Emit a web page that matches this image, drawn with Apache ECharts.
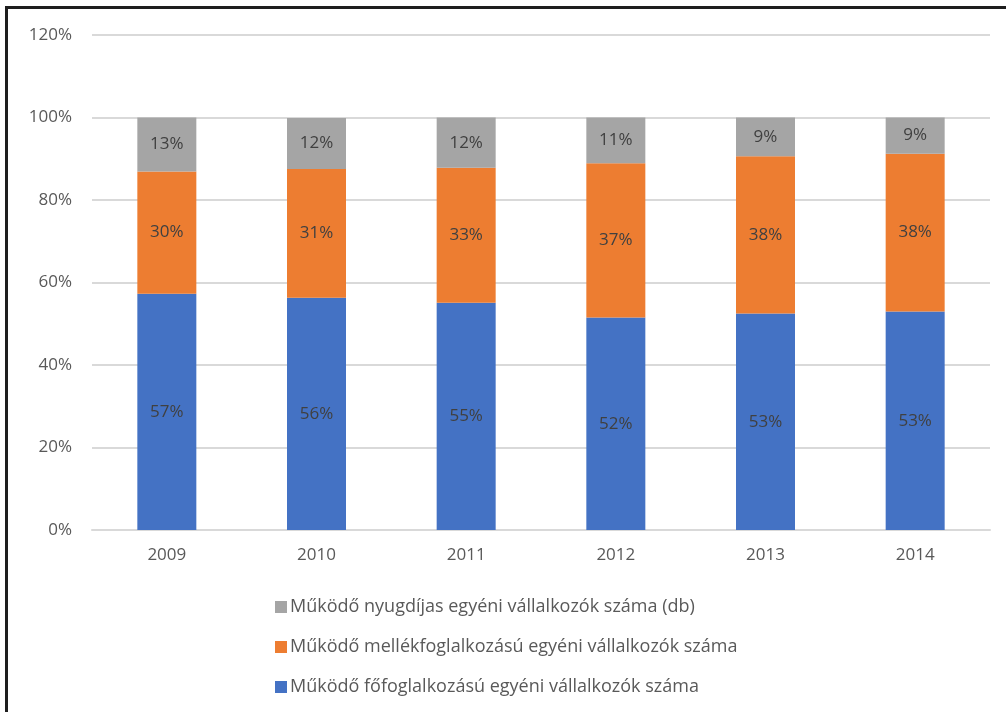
<!DOCTYPE html>
<html>
<head>
<meta charset="utf-8">
<script src="https://cdn.jsdelivr.net/npm/echarts@6/dist/echarts.min.js"></script>
<style>
    html, body {
        margin: 0;
        padding: 0;
        background: #fff;
        overflow: hidden;
    }

    .frame {
        position: absolute;
        left: 5px;
        top: 6px;
        width: 1100px;
        height: 800px;
        border: 3px solid #1e1e1e;
    }

    #chart {
        position: absolute;
        left: 0;
        top: 0;
        width: 1006px;
        height: 712px;
    }
</style>
</head>
<body>
<div class="frame"></div>
<div id="chart"></div>
<script>
const years = ['2009', '2010', '2011', '2012', '2013', '2014'];
// share of each group in percent
const fofoglalkozasu = [57.3, 56.3, 55.1, 51.5, 52.5, 53.0];
const mellekfoglalkozasu = [29.6, 31.2, 32.7, 37.4, 38.1, 38.2];
const nyugdijas = [13.1, 12.4, 12.2, 11.1, 9.4, 8.8];
const seriesNames = [
    'Működő főfoglalkozású egyéni vállalkozók száma',
    'Működő mellékfoglalkozású egyéni vállalkozók száma',
    'Működő nyugdíjas egyéni vállalkozók száma (db)',
];
const colors = ['#4472C4', '#ED7D31', '#A5A5A5'];

const font = 'Open Sans';
const chart = echarts.init(document.getElementById('chart'));

function makeSeries(name, data, color) {
    return {
        name: name,
        type: 'bar',
        stack: 'total',
        barWidth: 59,
        data: data,
        itemStyle: {color: color},
        label: {
            show: true,
            position: 'inside',
            color: '#404040',
            fontFamily: font,
            fontSize: 17,
            formatter: (p) => Math.round(p.value) + '%',
        },
    };
}

chart.setOption({
    animation: false,
    backgroundColor: 'transparent',
    grid: {
        left: 92,
        right: 16,
        top: 35,
        bottom: 182,
    },
    legend: {
        orient: 'vertical',
        left: 270,
        top: 593,
        itemWidth: 12,
        itemHeight: 12,
        itemGap: 22,
        icon: 'rect',
        data: [seriesNames[2], seriesNames[1], seriesNames[0]],
        textStyle: {
            color: '#595959',
            fontFamily: font,
            fontSize: 18,
            padding: [0, 0, 0, -2],
        },
    },
    xAxis: {
        type: 'category',
        data: years,
        axisLine: {lineStyle: {color: '#d9d9d9', width: 2}},
        axisTick: {show: false},
        axisLabel: {
            color: '#595959',
            fontFamily: font,
            fontSize: 17,
            margin: 17,
        },
    },
    yAxis: {
        type: 'value',
        min: 0,
        max: 120,
        interval: 20,
        axisLine: {show: false},
        axisTick: {show: false},
        splitLine: {lineStyle: {color: '#d9d9d9', width: 2}},
        axisLabel: {
            color: '#595959',
            fontFamily: font,
            fontSize: 17,
            margin: 20,
            formatter: '{value}%',
        },
    },
    series: [
        makeSeries(seriesNames[0], fofoglalkozasu, colors[0]),
        makeSeries(seriesNames[1], mellekfoglalkozasu, colors[1]),
        makeSeries(seriesNames[2], nyugdijas, colors[2]),
    ],
});
</script>
</body>
</html>
